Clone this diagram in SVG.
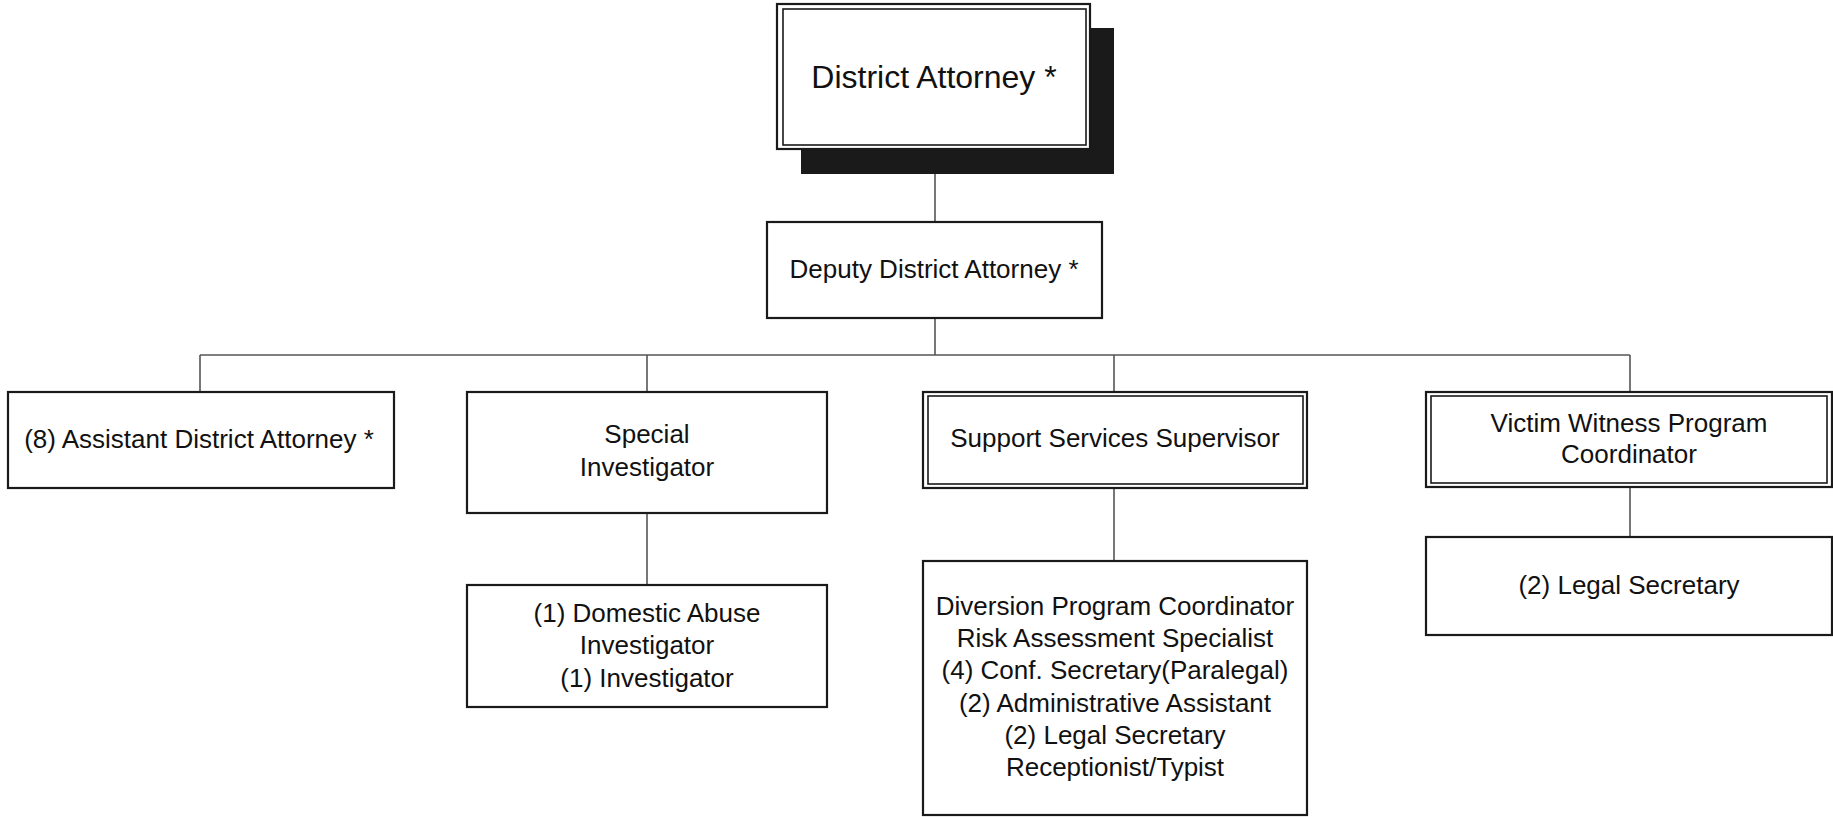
<svg xmlns="http://www.w3.org/2000/svg" width="1833" height="817" viewBox="0 0 1833 817">
<style>
.box{fill:#fff;stroke:#1a1a1a;stroke-width:2.2}
.inner{fill:none;stroke:#1a1a1a;stroke-width:1.6}
.conn{fill:none;stroke:#555;stroke-width:1.6}
text{font-family:"Liberation Sans",Arial,sans-serif;font-size:26px;fill:#111;text-anchor:middle}
</style>
<rect width="1833" height="817" fill="#fff"/>
<g id="connectors">
<path class="conn" d="M935 174V222"/>
<path class="conn" d="M935 318V355"/>
<path class="conn" d="M200 355H1630"/>
<path class="conn" d="M200 355V392"/>
<path class="conn" d="M647 355V392"/>
<path class="conn" d="M1114 355V392"/>
<path class="conn" d="M1630 355V392"/>
<path class="conn" d="M647 513V585"/>
<path class="conn" d="M1114 488V561"/>
<path class="conn" d="M1630 487V537"/>
</g>
<g id="district-attorney">
<rect x="801" y="28" width="313" height="146" fill="#1a1a1a"/>
<rect class="box" x="777" y="4" width="313" height="145"/>
<rect class="inner" x="783" y="9" width="303" height="136"/>
<text x="934" y="88" style="font-size:32px">District Attorney *</text>
</g>
<g id="deputy-district-attorney">
<rect class="box" x="767" y="222" width="335" height="96"/>
<text x="934" y="278">Deputy District Attorney *</text>
</g>
<g id="assistant-district-attorney">
<rect class="box" x="8" y="392" width="386" height="96"/>
<text x="199" y="448">(8) Assistant District Attorney *</text>
</g>
<g id="special-investigator">
<rect class="box" x="467" y="392" width="360" height="121"/>
<text x="647" y="443">Special</text>
<text x="647" y="476">Investigator</text>
</g>
<g id="support-services-supervisor">
<rect class="box" x="923" y="392" width="384" height="96"/>
<rect class="inner" x="928" y="396" width="375" height="88"/>
<text x="1115" y="447">Support Services Supervisor</text>
</g>
<g id="victim-witness-coordinator">
<rect class="box" x="1426" y="392" width="406" height="95"/>
<rect class="inner" x="1431" y="396" width="396" height="87"/>
<text x="1629" y="432">Victim Witness Program</text>
<text x="1629" y="463">Coordinator</text>
</g>
<g id="domestic-abuse-investigator">
<rect class="box" x="467" y="585" width="360" height="122"/>
<text x="647" y="622">(1) Domestic Abuse</text>
<text x="647" y="654">Investigator</text>
<text x="647" y="687">(1) Investigator</text>
</g>
<g id="support-staff">
<rect class="box" x="923" y="561" width="384" height="254"/>
<text x="1115" y="615">Diversion Program Coordinator</text>
<text x="1115" y="647">Risk Assessment Specialist</text>
<text x="1115" y="679">(4) Conf. Secretary(Paralegal)</text>
<text x="1115" y="712">(2) Administrative Assistant</text>
<text x="1115" y="744">(2) Legal Secretary</text>
<text x="1115" y="776">Receptionist/Typist</text>
</g>
<g id="legal-secretary">
<rect class="box" x="1426" y="537" width="406" height="98"/>
<text x="1629" y="594">(2) Legal Secretary</text>
</g>
</svg>
